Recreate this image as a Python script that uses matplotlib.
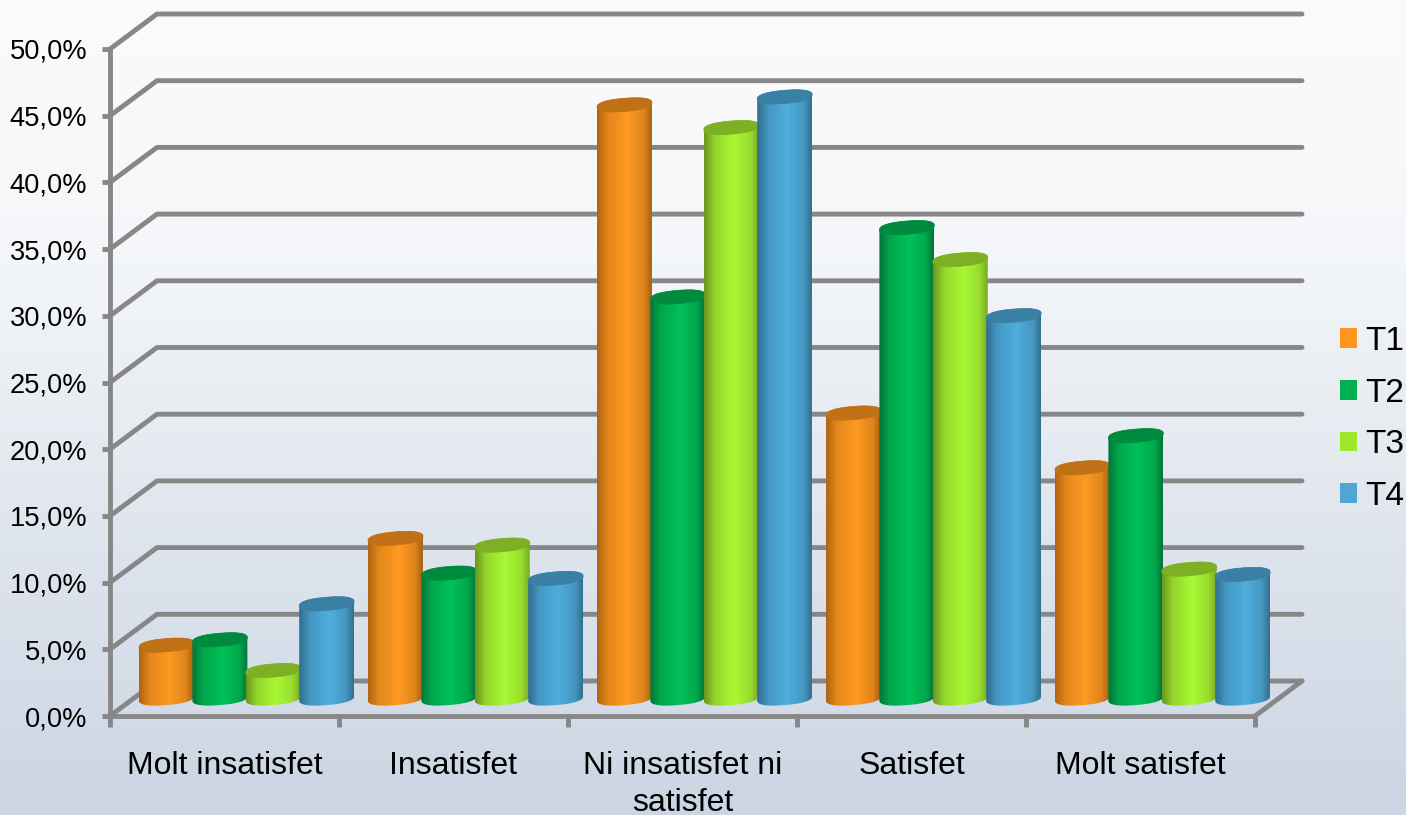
import numpy as np
import matplotlib
matplotlib.use("Agg")
import matplotlib.pyplot as plt
from matplotlib.patches import PathPatch, Patch, Polygon
from matplotlib.path import Path

plt.rcParams['font.family'] = ['Liberation Sans', 'DejaVu Sans']

categories = ["Molt insatisfet", "Insatisfet", "Ni insatisfet ni\nsatisfet", "Satisfet", "Molt satisfet"]
series_names = ["T1", "T2", "T3", "T4"]
t1 = [4.0, 12.0, 44.5, 21.4, 17.3]
t2 = [4.4, 9.4, 30.1, 35.3, 19.7]
t3 = [2.1, 11.5, 42.8, 32.9, 9.7]
t4 = [7.1, 9.0, 45.1, 28.7, 9.3]
y_ticks = [0, 5, 10, 15, 20, 25, 30, 35, 40, 45, 50]

W, H = 1406, 815
X0, X1, Y0, Y50 = 110, 1255, 716, 49
px_x = 5 / (X1 - X0)
px_y = 50 / (Y0 - Y50)

grid_col = '#878787'
line_w = 3.5
legend_cols = ['#FF9420', '#00B050', '#A0E82A', '#4FA6D5']
cap_cols = ['#C07015', '#008A3E', '#7DB022', '#3A80A5']
# left edge, bright middle, right edge of each cylinder
body_cols = [
    [(176, 101, 15), (255, 154, 34), (168, 96, 15)],
    [(0, 118, 56), (0, 194, 88), (0, 118, 56)],
    [(108, 150, 30), (170, 249, 52), (120, 168, 37)],
    [(47, 110, 143), (80, 174, 222), (51, 112, 143)],
]

fig = plt.figure(figsize=(W / 100, H / 100), dpi=100)

bg = fig.add_axes([0, 0, 1, 1], zorder=0)
grad = np.interp(np.linspace(0, 1, 256), [0, 0.3, 1], [0, 0.12, 1])
top_c, bot_c = np.array([250, 251, 252]), np.array([203, 213, 227])
bg.imshow((top_c + (bot_c - top_c) * grad[:, None])[:, None, :].astype(np.uint8), aspect='auto')
bg.axis('off')

ax = fig.add_axes([X0 / W, 1 - Y0 / H, (X1 - X0) / W, (Y0 - Y50) / H], zorder=1)
ax.patch.set_visible(False)

# walls and floor, drawn back from the front axis
depth_x, depth_y = 47 * px_x, 35 * px_y
for v in y_ticks:
    ax.plot([0, depth_x, 5 + depth_x], [v, v + depth_y, v + depth_y], color=grid_col, lw=line_w,
            solid_capstyle='round', solid_joinstyle='round', clip_on=False, zorder=1)
ax.plot([5, 5 + depth_x], [0, depth_y], color=grid_col, lw=line_w, solid_capstyle='round', clip_on=False, zorder=1)


def ellipse(cx, cy, n=80, start=0, stop=2 * np.pi):
    # slightly squarish tilted ellipse, the caps are fuller than a true one
    t = np.linspace(start, stop, n)
    c = np.sign(np.cos(t)) * np.abs(np.cos(t)) ** 0.85
    s = np.sign(np.sin(t)) * np.abs(np.sin(t)) ** 0.85
    return cx + 27.5 * px_x * c, cy + (2.2 * c + 6.6 * s) * px_y


step = 53.4 * px_x
first = 29 * px_x
half_d = depth_y / 2
u = np.linspace(0, 1, 200)
for s, vals in enumerate([t1, t2, t3, t4]):
    c = np.array(body_cols[s], dtype=float)
    g = np.stack([np.interp(u, [0, 0.2, 0.55, 0.85, 1],
                            [c[0, k], 0.35 * c[0, k] + 0.65 * c[1, k], c[1, k],
                             0.35 * c[2, k] + 0.65 * c[1, k], c[2, k]]) for k in range(3)], axis=1)
    g = g[None, :, :].astype(np.uint8)
    for i, v in enumerate(vals):
        z = 5 + s + i * 10
        cx = i + first + s * step + 27.5 * px_x
        xb, yb = ellipse(cx, half_d, start=np.pi, stop=2 * np.pi)
        xt, yt = ellipse(cx, v + half_d, start=0, stop=np.pi)
        body = np.column_stack([np.r_[xb, xt], np.r_[yb, yt]])
        clip = PathPatch(Path(np.vstack([body, body[:1]])), transform=ax.transData, fc='none', ec='none')
        ax.add_patch(clip)
        im = ax.imshow(g, extent=(cx - 27.5 * px_x, cx + 27.5 * px_x, 0, v + 2 * half_d),
                       aspect='auto', zorder=z, interpolation='bilinear')
        im.set_clip_path(clip)
        im.set_clip_box(fig.bbox)
        xc, yc = ellipse(cx, v + half_d)
        ax.add_patch(Polygon(np.column_stack([xc, yc]), closed=True, fc=cap_cols[s],
                             ec=cap_cols[s], lw=0.5, zorder=z + 0.5, clip_on=False))

ax.set_xlim(0, 5)
ax.set_ylim(0, 50)
for side in ['top', 'right']:
    ax.spines[side].set_visible(False)
for side in ['left', 'bottom']:
    ax.spines[side].set_color(grid_col)
    ax.spines[side].set_linewidth(line_w)

ax.set_yticks(y_ticks)
ax.set_yticklabels([f"{v:.1f}%".replace('.', ',') for v in y_ticks], fontsize=19.6)
ax.tick_params(axis='y', length=6, width=line_w, color=grid_col, pad=10.5)
ax.set_xticks(range(6))
ax.set_xticklabels([])
ax.tick_params(axis='x', length=8, width=line_w, color=grid_col)
ax.set_xticks(np.arange(5) + 0.5, minor=True)
ax.set_xticklabels(categories, minor=True, fontsize=23, linespacing=1.3)
ax.tick_params(axis='x', which='minor', length=0, pad=25)

handles = [Patch(fc=col, ec='none', label=n) for col, n in zip(legend_cols, series_names)]
fig.legend(handles=handles, loc='center left', bbox_to_anchor=(1340 / W, 1 - 419 / H), frameon=False,
           fontsize=24, handlelength=0.52, handleheight=0.52, handletextpad=0.24, labelspacing=0.62,
           borderpad=0, borderaxespad=0)

fig.savefig('out.png', dpi=100)
